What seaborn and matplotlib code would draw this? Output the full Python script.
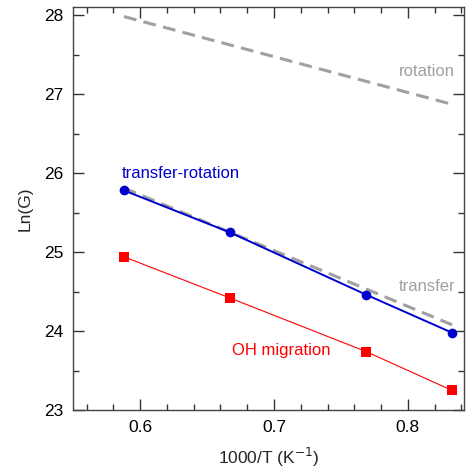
import seaborn as sns
import matplotlib.pyplot as plt
import pandas as pd
from matplotlib.ticker import MultipleLocator

# Data
inv_t = [0.588, 0.667, 0.769, 0.833]
transfer_rotation = [25.78, 25.25, 24.46, 23.98]
oh_migration = [24.94, 24.42, 23.74, 23.25]

fit_x = [0.588, 0.833]
rotation_fit = [27.98, 26.87]
transfer_fit = [25.81, 24.08]

sns.set_theme(style="ticks")
plt.rcParams['font.family'] = ['Liberation Sans', 'DejaVu Sans']

gray = "#a0a0a0"
blue = "#0000cc"
red = "#ff0000"
fs = 12

fig = plt.figure(figsize=(4.75, 4.72), dpi=100)
ax = fig.add_axes([0.154, 0.131, 0.823, 0.854])

df_pts = pd.DataFrame({"x": inv_t, "tr": transfer_rotation, "oh": oh_migration})
df_fit = pd.DataFrame({"x": fit_x, "rot": rotation_fit, "tra": transfer_fit})

# dashed fits (gray)
sns.lineplot(data=df_fit, x="x", y="rot", ax=ax, color=gray, linewidth=2.2)
sns.lineplot(data=df_fit, x="x", y="tra", ax=ax, color=gray, linewidth=2.2)
for ln in ax.lines:
    ln.set_dashes([4.2, 2.4])

sns.lineplot(data=df_pts, x="x", y="oh", ax=ax, color=red, linewidth=0.8,
             marker="s", markersize=7, markeredgewidth=0)
sns.lineplot(data=df_pts, x="x", y="tr", ax=ax, color=blue, linewidth=1.4,
             marker="o", markersize=7, markeredgewidth=0)

ax.text(0.814, 27.29, "rotation", color=gray, fontsize=fs, ha="center", va="center")
ax.text(0.814, 24.56, "transfer", color=gray, fontsize=fs, ha="center", va="center")
ax.text(0.5866, 26.0, "transfer-rotation", color=blue, fontsize=fs, ha="left", va="center")
ax.text(0.7056, 23.75, "OH migration", color=red, fontsize=fs, ha="center", va="center")

ax.set_xlim(0.55, 0.842)
ax.set_ylim(23, 28.1)
ax.xaxis.set_major_locator(MultipleLocator(0.1))
ax.xaxis.set_minor_locator(MultipleLocator(0.02))
ax.yaxis.set_major_locator(MultipleLocator(1))
ax.yaxis.set_minor_locator(MultipleLocator(0.5))
ax.tick_params(which="both", direction="in", top=True, right=True,
               colors="#333333", labelcolor="black", labelsize=12.5, width=1)
ax.tick_params(which="major", length=8, pad=7)
ax.tick_params(which="minor", length=4.5)
for sp in ax.spines.values():
    sp.set_color("#444444")
    sp.set_linewidth(1)

ax.set_xlabel("1000/T (K$^{-1}$)", fontsize=12.5, labelpad=8)
ax.set_ylabel("Ln(G)", fontsize=12.5, labelpad=8)

fig.savefig("out.png", dpi=100)
